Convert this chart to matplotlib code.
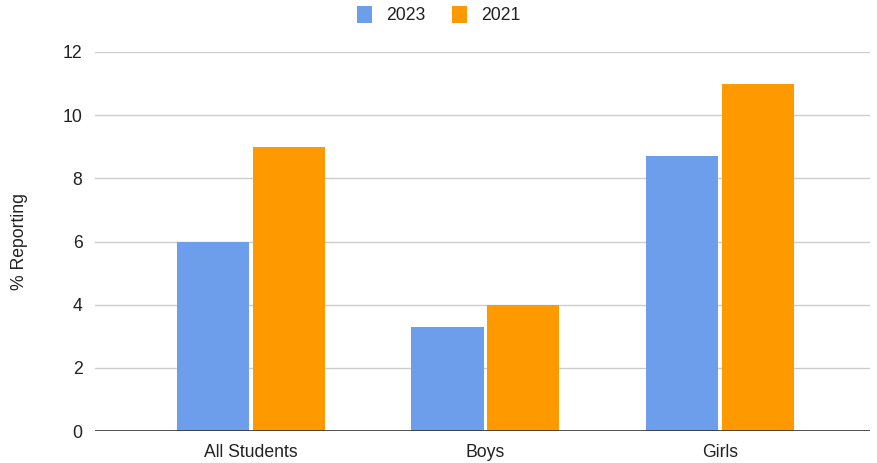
import matplotlib.pyplot as plt
import numpy as np

categories = ['All Students', 'Boys', 'Girls']
series_names = ['2023', '2021']
values_2023 = [6.0, 3.3, 8.7]
values_2021 = [9.0, 4.0, 11.0]
yticks = [0, 2, 4, 6, 8, 10, 12]

colors = ['#6d9eeb', '#ff9900']

plt.rcParams['font.family'] = ['Liberation Sans', 'DejaVu Sans']

fig = plt.figure(figsize=(8.77, 4.63), dpi=100)
ax = fig.add_axes([0.1083, 0.0691, 0.884, 0.8186])

x = np.arange(len(categories))
width = 0.308
offset = 0.162
bars = []
for vals, off, c, name in zip([values_2023, values_2021], [-offset, offset], colors, series_names):
	b = ax.bar(x + off, vals, width, color=c, label=name, zorder=3)
	bars.append(b)

ax.set_xlim(-0.667, 2.643)
ax.set_ylim(0, 12)
ax.set_yticks(yticks)
ax.set_xticks(x)
ax.set_xticklabels(categories)
ax.yaxis.grid(True, color='#cccccc', linewidth=1, zorder=0)
ax.axhline(0, color='#333333', linewidth=1.2, zorder=4)
for s in ax.spines.values():
	s.set_visible(False)
ax.tick_params(axis='both', length=0, labelsize=12.7, colors='#222222')
ax.tick_params(axis='y', pad=9)
ax.tick_params(axis='x', pad=9)
ax.set_ylabel('% Reporting', fontsize=12.7, color='#222222', labelpad=25)

leg = fig.legend(handles=bars, labels=series_names, loc='upper center',
	bbox_to_anchor=(0.5, 1.022), ncol=2, frameon=False, fontsize=12.7,
	handlelength=0.85, handleheight=1.1, handletextpad=0.8, columnspacing=1.5)
for t in leg.get_texts():
	t.set_color('#222222')

fig.savefig('out.png', dpi=100)
